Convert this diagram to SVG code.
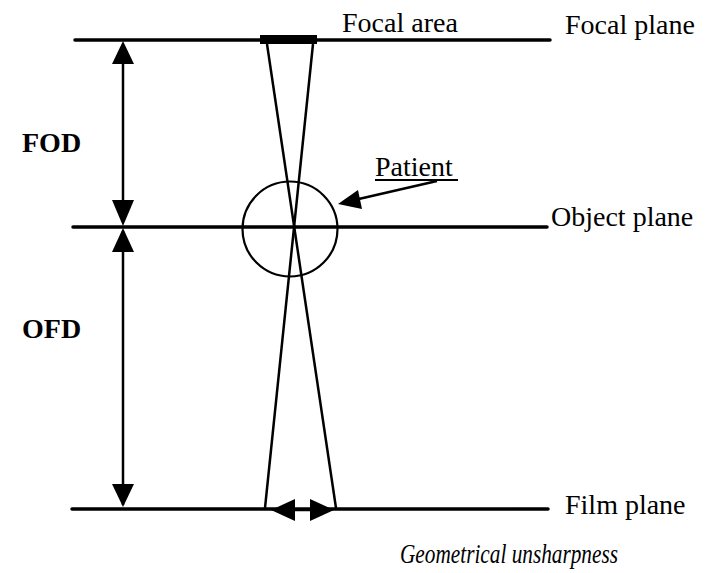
<svg xmlns="http://www.w3.org/2000/svg" width="707" height="573" viewBox="0 0 707 573">
<defs>
<style>
.t{font-family:"Liberation Serif","Times New Roman",serif;font-size:28px;fill:#000}
.b{font-weight:bold}
.i{font-style:italic}
.plane{stroke:#000;stroke-width:3.5;fill:none;stroke-linecap:round}
.beam{stroke:#000;stroke-width:2.5;fill:none}
.dim{stroke:#000;stroke-width:2.5;fill:none}
.head{fill:#000}
</style>
</defs>
<rect width="707" height="573" fill="#fff"/>
<g id="focal-plane">
<line class="plane" x1="75" y1="40" x2="550" y2="40"/>
<rect x="260" y="35" width="57" height="9" fill="#000"/>
<text class="t" x="342" y="32">Focal area</text>
<text class="t" x="565" y="34">Focal plane</text>
</g>
<g id="object-plane">
<line class="plane" x1="73" y1="227" x2="547" y2="227"/>
<text class="t" x="551" y="226">Object plane</text>
</g>
<g id="film-plane">
<line class="plane" x1="72" y1="509" x2="548" y2="509"/>
<text class="t" x="565" y="514">Film plane</text>
</g>
<g id="patient">
<circle cx="290" cy="229" r="47.5" fill="none" stroke="#000" stroke-width="2.2"/>
<text class="t" x="375" y="176">Patient</text>
<line x1="375" y1="180" x2="458" y2="180" stroke="#000" stroke-width="1.8"/>
</g>
<g id="labels">
<text class="t b" x="22" y="152">FOD</text>
<text class="t b" x="22" y="338">OFD</text>
<text class="t i" x="400" y="563" font-size="26" textLength="218" lengthAdjust="spacingAndGlyphs">Geometrical unsharpness</text>
</g>
<g id="connectors">
<line class="beam" x1="267" y1="44" x2="336" y2="508"/>
<line class="beam" x1="313" y1="44" x2="265" y2="508"/>
<line class="dim" x1="123" y1="45" x2="123" y2="222"/>
<polygon class="head" points="123,41 112,64 134,64"/>
<polygon class="head" points="123,226 112,200 134,200"/>
<line class="dim" x1="123" y1="231" x2="123" y2="505"/>
<polygon class="head" points="123,228 112,252 134,252"/>
<polygon class="head" points="123,507 112,484 134,484"/>
<line class="dim" x1="275" y1="510" x2="330" y2="510"/>
<polygon class="head" points="271,510 295,499 295,521"/>
<polygon class="head" points="334,510 310,499 310,521"/>
<line class="dim" x1="437" y1="181" x2="350" y2="201"/>
<polygon class="head" points="338,204 358,190 362,209"/>
</g>
</svg>
